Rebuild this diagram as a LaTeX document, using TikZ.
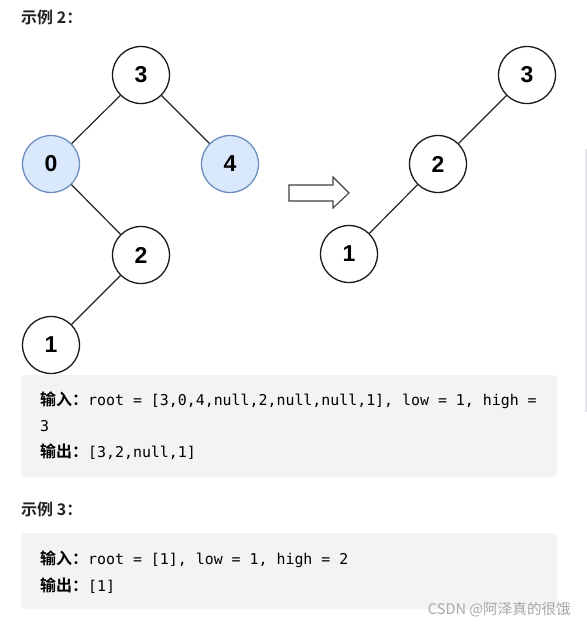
\documentclass[tikz,border=0pt]{standalone}
\usepackage{fontspec}
\setmainfont{Liberation Sans}
\setmonofont{DejaVu Sans Mono}
\newfontfamily\cjk{Noto Sans CJK SC}
\newfontfamily\cjkb{Noto Sans CJK SC Bold}
\definecolor{nodeblue}{HTML}{DAE8FC}
\definecolor{edgeblue}{HTML}{6C8EBF}
\definecolor{codebg}{HTML}{F2F3F5}
\definecolor{txt}{HTML}{222222}
\definecolor{wm}{HTML}{A8A8A8}
\definecolor{sideline}{HTML}{E5E4EA}
\begin{document}
\begin{tikzpicture}[x=1pt,y=-1pt,
  tn/.style={circle,draw=black!90,line width=1.3pt,minimum size=57pt,inner sep=0pt,
    font=\fontsize{23}{23}\selectfont\bfseries,fill=white},
  bn/.style={tn,fill=nodeblue,draw=edgeblue},
  edge/.style={line width=1.2pt,draw=black!85},
  head/.style={anchor=base west,inner sep=0pt,text=txt,font=\fontsize{16}{16}\cjkb},
  codeline/.style={anchor=base west,inner sep=0pt,text=black},
  box/.style={fill=codebg,rounded corners=4pt,draw=none}]
\useasboundingbox (0,0) rectangle (587,625);
\fill[white] (0,0) rectangle (587,625);
% header
\node[head] (h2) at (21,23) {示例 2：};
% left tree
\node[tn] (a3) at (141,75) {3};
\node[bn] (a0) at (51,164) {0};
\node[bn] (a4) at (230,164) {4};
\node[tn] (a2) at (141,255) {2};
\node[tn] (a1) at (51,345) {1};
\draw[edge] (a3) -- (a0);
\draw[edge] (a3) -- (a4);
\draw[edge] (a0) -- (a2);
\draw[edge] (a2) -- (a1);
% arrow
\draw[line width=1.1pt,draw=black!75,fill=white,line join=miter]
  (289,185) -- (333,185) -- (333,177) -- (349,193) -- (333,208) -- (333,201) -- (289,201) -- cycle;
% right tree
\node[tn] (b3) at (527,75) {3};
\node[tn] (b2) at (438,164) {2};
\node[tn] (b1) at (349,254) {1};
\draw[edge] (b3) -- (b2);
\draw[edge] (b2) -- (b1);
% side line
\fill[sideline] (584.5,149) rectangle (586.5,412);
% box 1
\fill[box] (21,375) rectangle (557,477);
\node[codeline] (l1) at (40,405) {{\fontsize{16}{16}\cjkb 输入：}{\fontsize{14.9}{15}\ttfamily root = [3,0,4,null,2,null,null,1], low = 1, high =}};
\node[codeline] (l2) at (40,431) {{\fontsize{14.9}{15}\ttfamily 3}};
\node[codeline] (l3) at (40,457) {{\fontsize{16}{16}\cjkb 输出：}{\fontsize{14.9}{15}\ttfamily [3,2,null,1]}};
% header 3
\node[head] (h3) at (21,515) {示例 3：};
% box 2
\fill[box] (21,533) rectangle (557,609);
\node[codeline] (m1) at (40,564) {{\fontsize{16}{16}\cjkb 输入：}{\fontsize{14.9}{15}\ttfamily root = [1], low = 1, high = 2}};
\node[codeline] (m2) at (40,591) {{\fontsize{16}{16}\cjkb 输出：}{\fontsize{14.9}{15}\ttfamily [1]}};
% watermark
\node[anchor=base east,inner sep=0pt,text=wm,font=\fontsize{14.6}{15}\cjk] (wmk) at (571,614) {CSDN @阿泽真的很饿};
\end{tikzpicture}
\end{document}
